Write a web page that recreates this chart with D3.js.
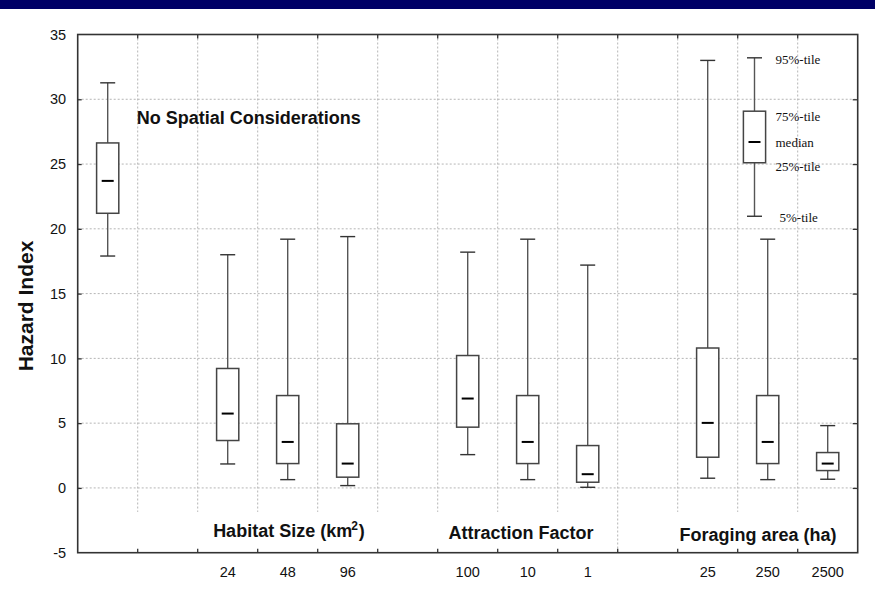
<!DOCTYPE html>
<html>
<head>
<meta charset="utf-8">
<script src="https://cdn.jsdelivr.net/npm/d3@7"></script>
<style>
  body { margin: 0; background: #fff; }
  svg { display: block; font-family: "Liberation Sans", Arial, sans-serif; }
  .grid line { stroke: #b5b5b5; stroke-width: 1; stroke-dasharray: 2,2; }
  .axis path { display: none; }
  .axis text { font-size: 14.5px; fill: #111; }
  .axis line { stroke: #333; stroke-width: 1.3; }
  .group-label { font-size: 18px; font-weight: bold; fill: #111; }
  .key-label { font-family: "Liberation Serif", "Times New Roman", serif; font-size: 13px; fill: #111; }
</style>
</head>
<body>
<div id="viz"></div>
<script>
// chart size
var w = 875;
var h = 590;
var margin = {top: 34.5, right: 17.3, bottom: 37.3, left: 77.7};

// x slots (gaps are empty columns)
var categories = ["No Spatial", "gap1", "24", "48", "96", "gap2", "100", "10", "1", "gap3", "25", "250", "2500"];
var tickLabels = ["", "", "24", "48", "96", "", "100", "10", "1", "", "25", "250", "2500"];
var yTicks = [-5, 0, 5, 10, 15, 20, 25, 30, 35];

// box plot stats
var boxCats = ["No Spatial", "24", "48", "96", "100", "10", "1", "25", "250", "2500"];
var p5     = [17.9, 1.85, 0.64, 0.18, 2.57, 0.64, 0.05, 0.75, 0.64, 0.67];
var p25    = [21.2, 3.66, 1.88, 0.83, 4.69, 1.88, 0.44, 2.37, 1.88, 1.34];
var median = [23.7, 5.74, 3.55, 1.88, 6.9, 3.55, 1.06, 5.02, 3.55, 1.88];
var p75    = [26.63, 9.22, 7.13, 4.95, 10.22, 7.13, 3.27, 10.8, 7.13, 2.73];
var p95    = [31.27, 18.0, 19.2, 19.4, 18.2, 19.2, 17.2, 33.0, 19.2, 4.81];

// legend key box
var keyValues = [20.97, 25.1, 26.7, 29.08, 33.2];
var keyLabels = ["5%-tile", "25%-tile", "median", "75%-tile", "95%-tile"];

var x = d3.scaleBand()
    .domain(categories)
    .range([margin.left, w - margin.right])
    .padding(0);

var y = d3.scaleLinear()
    .domain([-5, 35])
    .range([h - margin.bottom, margin.top]);

var bw = x.bandwidth();
var boxW = bw * 0.37;
var capW = bw * 0.25;
var medW = bw * 0.2;

var svg = d3.select("#viz")
    .append("svg")
    .attr("width", w)
    .attr("height", h);

// dark banner at the top
svg.append("rect")
    .attr("x", 0).attr("y", 0)
    .attr("width", w).attr("height", 9)
    .attr("fill", "#000066");

// gridlines
var grid = svg.append("g").attr("class", "grid");
grid.selectAll("line.h")
    .data(yTicks.slice(1, -1))
    .enter().append("line")
    .attr("class", "h")
    .attr("x1", margin.left).attr("x2", w - margin.right)
    .attr("y1", function(d) { return y(d); })
    .attr("y2", function(d) { return y(d); });
grid.selectAll("line.v")
    .data(categories.slice(1))
    .enter().append("line")
    .attr("class", "v")
    .attr("x1", function(d) { return x(d); })
    .attr("x2", function(d) { return x(d); })
    .attr("y1", margin.top)
    .attr("y2", h - margin.bottom);

// white patches behind the group labels (they hide the grid)
var groups = [
    {text: "Habitat Size (km", sup: true, from: "gap1", to: "gap2", cx: 289, base: 537},
    {text: "Attraction Factor", sup: false, from: "100", to: "gap3", cx: 521, base: 539},
    {text: "Foraging area (ha)", sup: false, from: "25", to: null, cx: 758, base: 540.5}
];
svg.selectAll("rect.lblbg")
    .data(groups)
    .enter().append("rect")
    .attr("class", "lblbg")
    .attr("x", function(d) { return x(d.from) - 5; })
    .attr("width", function(d) {
        var end = d.to ? x(d.to) + (d.to == "gap2" ? bw / 2 : -5) : w - margin.right - 4;
        return end - (x(d.from) - 5);
    })
    .attr("y", y(-1.85))
    .attr("height", y(-5) - y(-1.85) - 1)
    .attr("fill", "#fff");

// axes
svg.append("g")
    .attr("class", "axis")
    .attr("transform", "translate(" + margin.left + ",0)")
    .call(d3.axisLeft(y).tickValues(yTicks).tickSizeInner(-4).tickSizeOuter(0).tickPadding(11.5)
        .tickFormat(function(d) { return String(d); }))
    .selectAll("line").filter(function(d) { return d == -5 || d == 35; }).remove();

svg.append("g")
    .attr("class", "axis")
    .attr("transform", "translate(" + (w - margin.right) + ",0)")
    .call(d3.axisRight(y).tickValues(yTicks.slice(1, -1)).tickSizeInner(-5).tickSizeOuter(0).tickFormat(""));

var xAxis = d3.axisBottom(x)
    .tickSize(0)
    .tickPadding(14)
    .tickFormat(function(d, i) { return tickLabels[i]; });
svg.append("g")
    .attr("class", "axis")
    .attr("transform", "translate(0," + (h - margin.bottom) + ")")
    .call(xAxis);

// boundary ticks on bottom and top
var bticks = svg.append("g").attr("class", "axis");
bticks.selectAll("line.b")
    .data(categories.slice(1))
    .enter().append("line")
    .attr("x1", function(d) { return x(d); })
    .attr("x2", function(d) { return x(d); })
    .attr("y1", y(-5)).attr("y2", y(-5) - 4);
bticks.selectAll("line.t")
    .data(categories.slice(1))
    .enter().append("line")
    .attr("class", "t")
    .attr("x1", function(d) { return x(d); })
    .attr("x2", function(d) { return x(d); })
    .attr("y1", y(35)).attr("y2", y(35) + 4);

// frame
svg.append("rect")
    .attr("x", margin.left).attr("y", margin.top)
    .attr("width", w - margin.left - margin.right)
    .attr("height", h - margin.top - margin.bottom)
    .attr("fill", "none")
    .attr("stroke", "#333")
    .attr("stroke-width", 1.6);

// group labels
var glabels = svg.selectAll("text.group-label")
    .data(groups)
    .enter().append("text")
    .attr("class", "group-label")
    .attr("text-anchor", "middle")
    .attr("x", function(d) { return d.cx; })
    .attr("y", function(d) { return d.base; });
glabels.append("tspan").text(function(d) { return d.text; });
glabels.filter(function(d) { return d.sup; }).each(function() {
    var t = d3.select(this);
    t.append("tspan").attr("font-size", "12px").attr("dx", -1).attr("dy", -7).text("2");
    t.append("tspan").attr("dx", 1).attr("dy", 7).text(")");
});

// "No Spatial Considerations"
svg.append("text")
    .attr("class", "group-label")
    .attr("x", x("gap1") - 1)
    .attr("y", 123.5)
    .text("No Spatial Considerations");

// y axis title
svg.append("text")
    .attr("transform", "translate(32.5,306) rotate(-90)")
    .attr("text-anchor", "middle")
    .attr("font-size", "21px")
    .attr("font-weight", "bold")
    .attr("fill", "#111")
    .text("Hazard Index");

// boxes
var boxes = boxCats.map(function(c, i) {
    return {cat: c, lo: p5[i], q1: p25[i], med: median[i], q3: p75[i], hi: p95[i]};
});

function drawBox(g, d, cx) {
    // whiskers
    g.append("line")
        .attr("x1", cx).attr("x2", cx)
        .attr("y1", y(d.hi)).attr("y2", y(d.q3))
        .attr("stroke", "#555").attr("stroke-width", 1.4);
    g.append("line")
        .attr("x1", cx).attr("x2", cx)
        .attr("y1", y(d.q1)).attr("y2", y(d.lo))
        .attr("stroke", "#555").attr("stroke-width", 1.4);
    // caps
    [d.hi, d.lo].forEach(function(v) {
        g.append("line")
            .attr("x1", cx - capW / 2).attr("x2", cx + capW / 2)
            .attr("y1", y(v)).attr("y2", y(v))
            .attr("stroke", "#333").attr("stroke-width", 1.4);
    });
    g.append("rect")
        .attr("x", cx - boxW / 2)
        .attr("y", y(d.q3))
        .attr("width", boxW)
        .attr("height", y(d.q1) - y(d.q3))
        .attr("fill", "#fff")
        .attr("stroke", "#444")
        .attr("stroke-width", 1.5);
    g.append("line")
        .attr("x1", cx - medW / 2).attr("x2", cx + medW / 2)
        .attr("y1", y(d.med)).attr("y2", y(d.med))
        .attr("stroke", "#000").attr("stroke-width", 2);
}

svg.selectAll("g.box")
    .data(boxes)
    .enter().append("g")
    .attr("class", "box")
    .each(function(d) {
        drawBox(d3.select(this), d, x(d.cat) + bw / 2);
    });

// legend key box
var keyX = x("250") + bw * 0.28;
var key = svg.append("g").attr("class", "key");
drawBox(key, {lo: keyValues[0], q1: keyValues[1], med: keyValues[2], q3: keyValues[3], hi: keyValues[4]}, keyX);

var keyOffsets = [1.5, 3.5, 0.5, 5, 1.5];
key.selectAll("text")
    .data(keyLabels)
    .enter().append("text")
    .attr("class", "key-label")
    .attr("x", function(d, i) { return keyX + (i == 0 ? 25 : 21); })
    .attr("y", function(d, i) { return y(keyValues[i]) + keyOffsets[i]; })
    .attr("dy", "0.35em")
    .text(function(d) { return d; });
</script>
</body>
</html>
